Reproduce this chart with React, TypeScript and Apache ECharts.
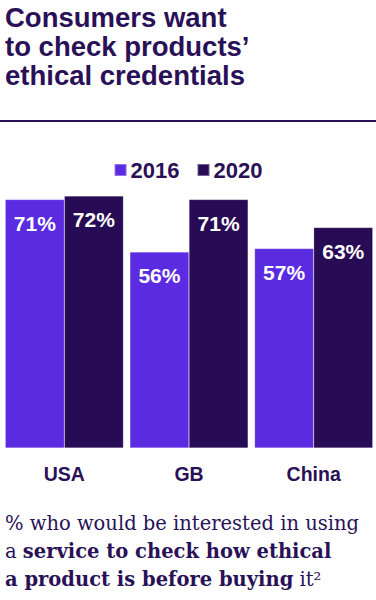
import React, { useEffect, useRef } from "react";
import * as echarts from "echarts";

const categories = ["USA", "GB", "China"];
const series2016 = [71, 56, 57];
const series2020 = [72, 71, 63];
const seriesNames = ["2016", "2020"];

const titleLines = ["Consumers want", "to check products’", "ethical credentials"];

const C2016 = "#5a2be0";
const C2020 = "#270b55";
const TEXT = "#2a1157";

export default function App() {
  const ref = useRef<HTMLDivElement>(null);
  useEffect(() => {
    document.body.style.margin = "0";
    if (!ref.current) return;
    const chart = echarts.init(ref.current, null, { renderer: "svg" });
    const labelCfg = {
      show: true,
      position: "insideTop",
      distance: 13,
      color: "#ffffff",
      fontSize: 21,
      fontWeight: "bold",
      fontFamily: "Liberation Sans, Arial, sans-serif",
      formatter: "{c}%",
    };
    chart.setOption({
      animation: false,
      legend: {
        top: 154,
        left: "center",
        icon: "rect",
        itemWidth: 12,
        itemHeight: 12,
        itemGap: 17,
        textStyle: {
          fontSize: 22,
          fontWeight: "bold",
          color: TEXT,
          fontFamily: "Liberation Sans, Arial, sans-serif",
          padding: [0, 0, 0, -1],
        },
        data: seriesNames,
      },
      grid: { left: 2, width: 378, top: 98, height: 350 },
      xAxis: {
        type: "category",
        data: categories,
        axisLine: { show: false },
        axisTick: { show: false },
        axisLabel: {
          margin: 16,
          fontSize: 19.5,
          fontWeight: "bold",
          color: TEXT,
          fontFamily: "Liberation Sans, Arial, sans-serif",
        },
      },
      yAxis: { type: "value", min: 0, max: 100, show: false, splitLine: { show: false } },
      series: [
        {
          name: seriesNames[0],
          type: "bar",
          data: series2016,
          barGap: "0%",
          barCategoryGap: "5.2%",
          itemStyle: { color: C2016, borderColor: "rgba(255,255,255,0.35)", borderWidth: 0.5 },
          label: labelCfg,
        },
        {
          name: seriesNames[1],
          type: "bar",
          data: series2020,
          itemStyle: { color: C2020, borderColor: "rgba(255,255,255,0.35)", borderWidth: 0.5 },
          label: labelCfg,
        },
      ],
      graphic: [
        {
          type: "text",
          left: 5,
          top: 3,
          style: {
            text: titleLines.join("\n"),
            fill: TEXT,
            font: "bold 27.5px 'Liberation Sans', Arial, sans-serif",
            lineHeight: 29,
          },
        },
        {
          type: "rect",
          shape: { x: 0, y: 120, width: 376, height: 2 },
          style: { fill: TEXT },
        },
        {
          type: "text",
          left: 5,
          top: 513,
          style: {
            text:
              "{r|% who would be interested in using}\n{r|a }{b|service to check how ethical}\n{b|a product is before buying}{r| it²}",
            rich: {
              r: {
                fontFamily: "DejaVu Serif, serif",
                fontSize: 19.5,
                lineHeight: 28,
                fill: TEXT,
              },
              b: {
                fontFamily: "DejaVu Serif, serif",
                fontWeight: "bold",
                fontSize: 19.5,
                lineHeight: 28,
                fill: TEXT,
              },
            },
          },
        },
      ],
    });
    return () => chart.dispose();
  }, []);
  return <div ref={ref} style={{ width: 376, height: 600 }} />;
}
